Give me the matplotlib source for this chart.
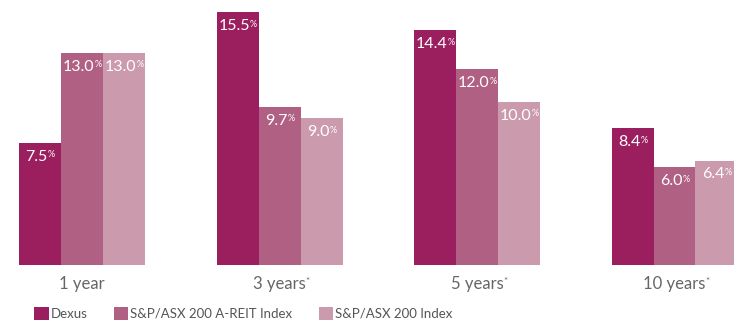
import matplotlib
matplotlib.use("Agg")
import matplotlib.pyplot as plt
import numpy as np

# periods and annualised returns (%)
periods = ["1 year", "3 years", "5 years", "10 years"]
starred = [False, True, True, True]
series = ["Dexus", "S&P/ASX 200 A-REIT Index", "S&P/ASX 200 Index"]
dexus = [7.5, 15.5, 14.4, 8.4]
areit = [13.0, 9.7, 12.0, 6.0]
asx200 = [13.0, 9.0, 10.0, 6.4]
colors = ["#9b1f5f", "#b06082", "#cc9aad"]

plt.rcParams["font.family"] = ["Lato", "DejaVu Sans"]

fig = plt.figure(figsize=(7.34, 3.2), dpi=100)
ax = fig.add_axes([0, 55 / 320, 1, 265 / 320])

x = np.arange(len(periods))
step = 197.5  # px between group centres
w = 42 / step
values = [dexus, areit, asx200]

for i, (name, vals, c) in enumerate(zip(series, values, colors)):
    bars = ax.bar(x + (i - 1) * w, vals, width=w, color=c, label=name)
    for b, v in zip(bars, vals):
        t = ax.annotate(f"{v:.1f}", xy=(b.get_x() + b.get_width() / 2, b.get_height()),
                        xytext=(-2.5, -5), textcoords="offset points",
                        ha="center", va="top", color="white", fontsize=11.5)
        ax.annotate("%", xy=(1, 1), xycoords=t, xytext=(0, -0.5),
                    textcoords="offset points", ha="left", va="top",
                    color="white", fontsize=6.5)

for xi, p, s in zip(x, periods, starred):
    t = ax.annotate(p, xy=(xi, 0), xytext=(0, -8), textcoords="offset points",
                    ha="center", va="top", color="#666666", fontsize=12)
    if s:
        ax.annotate("*", xy=(1, 1), xycoords=t, xytext=(0, -1),
                    textcoords="offset points", ha="left", va="top",
                    color="#666666", fontsize=7)

ax.set_xlim(-82 / step, (734 - 82) / step)
ax.set_ylim(0, 15.5 * 265 / 253)
ax.axis("off")

fig.legend(loc="lower left", bbox_to_anchor=(34 / 734, 0), ncol=3, frameon=False,
           fontsize=9.5, handlelength=1.1, handleheight=1.1, handletextpad=0.15,
           columnspacing=2.0, borderpad=0, borderaxespad=0, labelcolor="#555555")

fig.savefig("out.png", dpi=100)
